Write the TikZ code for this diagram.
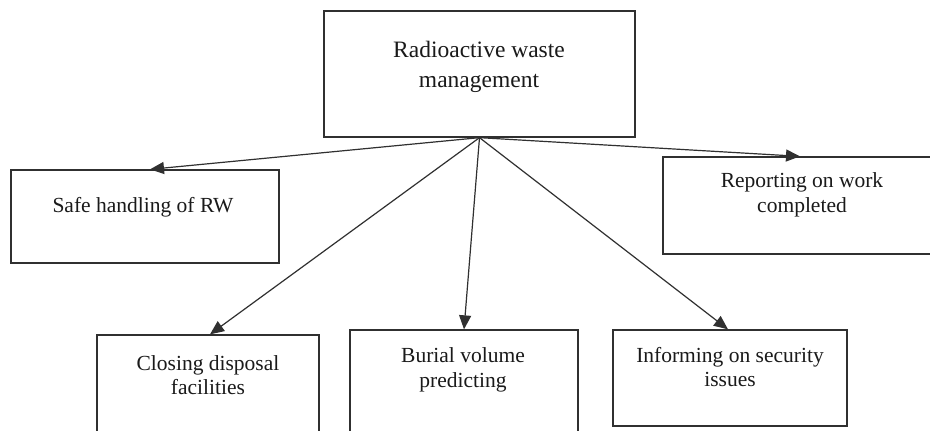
\documentclass[tikz,border=0pt]{standalone}
\usepackage{fontspec}
\setmainfont{Liberation Serif}
\usetikzlibrary{arrows.meta}

\definecolor{inkline}{HTML}{303030}
\definecolor{inktext}{HTML}{1A1A1A}

\tikzset{
  box/.style={draw=inkline, line width=1.3pt, rectangle, inner sep=0pt},
  lbl/.style={text=inktext, align=center, inner sep=0pt,
              font=\fontsize{21.5}{24.5}\selectfont},
  headlbl/.style={lbl, font=\fontsize{23.5}{30}\selectfont},
  link/.style={draw=inkline, line width=1.2pt,
               -{Triangle[length=14pt,width=12pt]}}
}

\begin{document}
\begin{tikzpicture}[x=1pt, y=-1pt]
  \clip (0,0) rectangle (930,431);
  \fill[white] (0,0) rectangle (930,431);

  % boxes
  \node[box, minimum width=311pt, minimum height=126pt] (top)     at (479.5,74)  {};
  \node[box, minimum width=268pt, minimum height=93pt]  (safe)    at (145,216.5) {};
  \node[box, minimum width=274pt, minimum height=97pt]  (report)  at (800,205.5) {};
  \node[box, minimum width=222pt, minimum height=110pt] (closing) at (208,390)   {};
  \node[box, minimum width=228pt, minimum height=115pt] (burial)  at (464,387.5) {};
  \node[box, minimum width=234pt, minimum height=96pt]  (inform)  at (730,378)   {};

  % labels
  \node[headlbl] (ttop)     at (479,67)  {Radioactive waste\\management};
  \node[lbl]     (tsafe)    at (143,207) {Safe handling of RW};
  \node[lbl]     (treport)  at (802,195) {Reporting on work\\completed};
  \node[lbl]     (tclosing) at (208,375) {Closing disposal\\facilities};
  \node[lbl]     (tburial)  at (463,370) {Burial volume\\predicting};
  \node[lbl]     (tinform)  at (730,367) {Informing on security\\issues};

  % connectors
  \coordinate (hub) at (top.south);
  \coordinate (safeTip) at ([xshift=5pt]safe.north);
  \draw[link] (hub) -- (safeTip);
  \draw[link] (hub) -- (report.north);
  \draw[link] (hub) -- ([xshift=2pt]closing.north);
  \draw[link] (hub) -- (burial.north);
  \draw[link] (hub) -- ([xshift=-2pt]inform.north);
\end{tikzpicture}
\end{document}
